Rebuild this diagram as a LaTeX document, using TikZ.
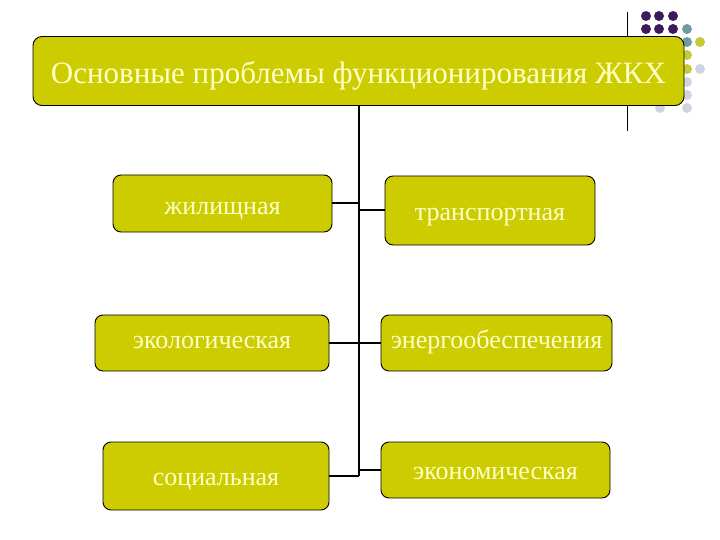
\documentclass[tikz,border=0pt]{standalone}
\usepackage{fontspec}
\setmainfont{Liberation Serif}
\usepackage{tikz}
\usetikzlibrary{positioning,calc}
\definecolor{boxolive}{HTML}{CCCC00}
\definecolor{boxtext}{HTML}{FFFFC8}
\definecolor{dotpurple}{HTML}{3F1B5E}
\definecolor{dotteal}{HTML}{6F9CA3}
\definecolor{dotolive}{HTML}{C8C838}
\definecolor{dotgray}{HTML}{D2D3E0}
\tikzset{
  titlebox/.style={draw=black, line width=0.9pt, fill=boxolive, rounded corners=9pt, text=boxtext, inner sep=0pt, text depth=7.7pt, text height=33pt, font=\fontsize{31}{35}\selectfont},
  itembox/.style={draw=black, line width=0.9pt, fill=boxolive, rounded corners=8pt, text=boxtext, inner sep=0pt, text depth=6.5pt, text height=18.5pt, font=\fontsize{26}{30}\selectfont},
  link/.style={black, line width=2pt}
}

\begin{document}
\begin{tikzpicture}[x=1pt, y=-1pt]
  \useasboundingbox (0,0) rectangle (720,540);
  % corner decoration
  \draw[black, line width=1pt] (627,12) -- (627,131);
  \foreach \px in {646,659,673}{\fill[dotpurple] (\px,16) circle (5);}
  \foreach \px in {646,659,673}{\fill[dotpurple] (\px,29) circle (5);}
  \fill[dotteal] (687,29) circle (5);
  \fill[dotteal] (687,42) circle (5);
  \fill[dotolive] (700,42) circle (5);
  \fill[dotolive] (687,55) circle (5);
  \fill[dotolive] (687,69) circle (5);
  \fill[dotgray] (700,69) circle (5);
  \fill[dotgray] (687,82) circle (5);
  \fill[dotgray] (687,95) circle (5);
  \fill[dotgray] (660,108) circle (5);
  \fill[dotgray] (687,108) circle (5);
  % boxes
  \node[titlebox, minimum width=651pt, minimum height=69pt] (title) at (358.5,71) {Основные проблемы функционирования ЖКХ};
  \node[itembox, text height=28.5pt, minimum width=219pt, minimum height=57pt] (zhil) at (222.5,203.5) {жилищная};
  \node[itembox, text height=27.5pt, minimum width=210pt, minimum height=69pt] (transp) at (490,210.5) {транспортная};
  \node[itembox, text height=16.5pt, minimum width=234pt, minimum height=56pt] (ekol) at (212,343) {экологическая};
  \node[itembox, text height=16.5pt, minimum width=231pt, minimum height=56pt] (energ) at (496.5,343) {энергообеспечения};
  \node[itembox, text height=24.5pt, minimum width=226pt, minimum height=68pt] (soc) at (216,476) {социальная};
  \node[itembox, text height=25.5pt, minimum width=229pt, minimum height=56pt] (ekon) at (495.5,470) {экономическая};
  % connectors
  \coordinate (trunkend) at (title.south |- soc.east);
  \draw[link] (title.south) -- (trunkend);
  \foreach \b in {zhil,transp,ekol,energ,soc,ekon}{
    \draw[link] (\b) -- (\b -| title.south);
  }
\end{tikzpicture}
\end{document}
